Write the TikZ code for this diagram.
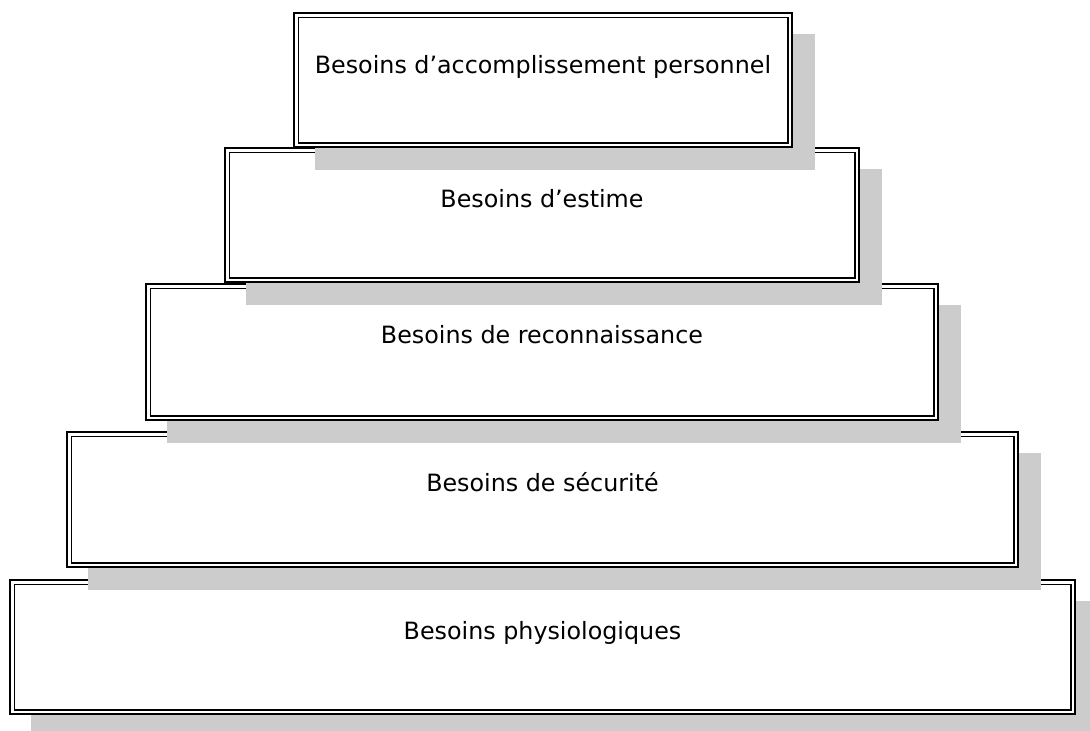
\documentclass[tikz,border=0pt]{standalone}
\usepackage{fontspec}
\setmainfont{DejaVu Sans}
\usetikzlibrary{calc}
\definecolor{shadowgray}{HTML}{CCCCCC}
\tikzset{
  tier/.style={rectangle, inner sep=0pt, outer sep=0pt, fill=white,
    draw=black, line width=1.7pt, double=white, double distance=2.8pt,
    preaction={draw=shadowgray, fill=shadowgray, line width=6.2pt,
      transform canvas={xshift=22pt, yshift=-22pt}}},
  tiertext/.style={anchor=base, inner sep=0pt, font=\fontsize{23.8}{28}\selectfont}
}
\begin{document}
\begin{tikzpicture}[x=1pt, y=1pt]
\useasboundingbox (0,0) rectangle (1090,-731);
% bottom to top so that upper shadows lie over lower boxes
\node[tier, minimum width=1060.8pt, minimum height=129.8pt] (b5) at (542.5,-647) {};
\node[tiertext] (t5) at ($(b5.north)+(0,-57)$) {Besoins physiologiques};
\node[tier, minimum width=946.8pt, minimum height=130.8pt] (b4) at (542.5,-499.5) {};
\node[tiertext] (t4) at ($(b4.north)+(0,-57)$) {Besoins de sécurité};
\node[tier, minimum width=787.8pt, minimum height=131.8pt] (b3) at (542,-352) {};
\node[tiertext] (t3) at ($(b3.north)+(0,-57)$) {Besoins de reconnaissance};
\node[tier, minimum width=629.8pt, minimum height=129.8pt] (b2) at (542,-215) {};
\node[tiertext] (t2) at ($(b2.north)+(0,-57)$) {Besoins d’estime};
\node[tier, minimum width=493.8pt, minimum height=129.8pt] (b1) at (543,-80) {};
\node[tiertext] (t1) at ($(b1.north)+(0,-58)$) {Besoins d’accomplissement personnel};
\end{tikzpicture}
\end{document}
